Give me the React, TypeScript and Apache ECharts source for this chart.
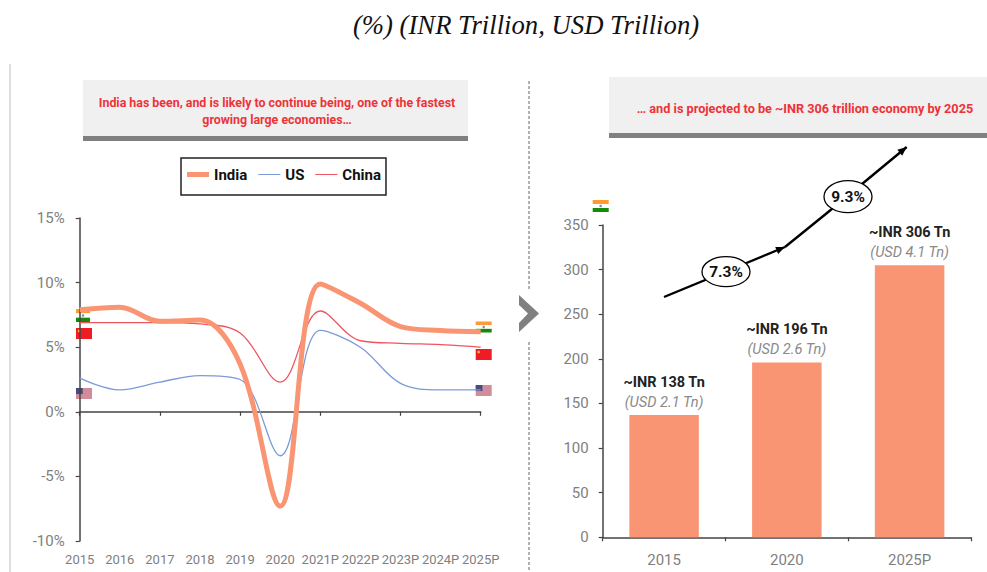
import React, { useEffect, useRef } from "react";
import * as echarts from "echarts";

const years = ["2015", "2016", "2017", "2018", "2019", "2020", "2021P", "2022P", "2023P", "2024P", "2025P"];
const india = [7.9, 8.1, 7.0, 7.1, 3.7, -7.3, 9.9, 8.4, 6.6, 6.3, 6.2];
const us = [2.6, 1.7, 2.3, 2.8, 2.5, -3.4, 6.3, 5.0, 2.2, 1.7, 1.7];
const china = [6.9, 6.9, 6.9, 6.8, 6.1, 2.3, 7.8, 5.5, 5.3, 5.2, 5.0];
const barCategories = ["2015", "2020", "2025P"];
const gdpInr = [137, 196, 305];
const inrLabels = ["~INR 138 Tn", "~INR 196 Tn", "~INR 306 Tn"];
const usdLabels = ["(USD 2.1 Tn)", "(USD 2.6 Tn)", "(USD 4.1 Tn)"];

const FONT = "Roboto, sans-serif";
const TICK = "#7f7f7f";
const ORANGE = "#fa9574";
const BLUE = "#7c9bd6";
const RED = "#ee5560";
const SMOOTH = 0.36;

function flagIndia(x: number, y: number, w: number, h: number) {
  const s = h / 3;
  return [
    { type: "rect", shape: { x, y, width: w, height: s }, style: { fill: "#ff9b33" } },
    { type: "rect", shape: { x, y: y + s, width: w, height: s }, style: { fill: "#ffffff" } },
    { type: "circle", shape: { cx: x + w / 2, cy: y + 1.5 * s, r: 1.3 }, style: { fill: "#8a8ab8" } },
    { type: "rect", shape: { x, y: y + 2 * s, width: w, height: s }, style: { fill: "#138a08" } },
  ];
}
function flagChina(x: number, y: number, w: number, h: number) {
  return [
    { type: "rect", shape: { x, y, width: w, height: h }, style: { fill: "#ee1c25" } },
    { type: "circle", shape: { cx: x + 3, cy: y + 3, r: 1.3 }, style: { fill: "#f5c030" } },
  ];
}
function flagUs(x: number, y: number, w: number, h: number) {
  return [
    { type: "rect", shape: { x, y, width: w, height: h }, style: { fill: "#d18c9a" } },
    { type: "rect", shape: { x, y, width: w * 0.42, height: h * 0.55 }, style: { fill: "#4a4a80" } },
  ];
}
function arrow(points: number[][]) {
  const n = points.length;
  const [x1, y1] = points[n - 2];
  const [x2, y2] = points[n - 1];
  const a = Math.atan2(y2 - y1, x2 - x1);
  const l = 9;
  const w = 3.8;
  const bx = x2 - l * Math.cos(a);
  const by = y2 - l * Math.sin(a);
  return [
    { type: "polyline", shape: { points }, style: { stroke: "#000", lineWidth: 2.4, fill: "none" } },
    {
      type: "polygon",
      shape: {
        points: [
          [x2, y2],
          [bx - w * Math.sin(a), by + w * Math.cos(a)],
          [bx + w * Math.sin(a), by - w * Math.cos(a)],
        ],
      },
      style: { fill: "#000" },
    },
  ];
}
function bubble(cx: number, cy: number, rx: number, ry: number, text: string) {
  return [
    { type: "ellipse", shape: { cx, cy, rx, ry }, style: { fill: "#fff", stroke: "#000", lineWidth: 1.3 } },
    {
      type: "text",
      x: cx,
      y: cy,
      style: { text, fill: "#111", font: `bold 15.5px ${FONT}`, align: "center", verticalAlign: "middle" },
    },
  ];
}
function header(x: number, y: number, w: number, h: number, text: string, tx: number, ty: number, size: number) {
  return [
    { type: "rect", shape: { x, y, width: w, height: h }, style: { fill: "#f0f0f0" } },
    { type: "rect", shape: { x, y: y + h, width: w, height: 5 }, style: { fill: "#808080" } },
    {
      type: "text",
      x: tx,
      y: ty,
      style: {
        text,
        fill: "#ee3338",
        font: `bold ${size}px ${FONT}`,
        lineHeight: 16.5,
        align: "center",
        verticalAlign: "middle",
      },
    },
  ];
}
const lineIcon = (t: number) => `path://M0,0H22V0ZM0,${7 - t / 2}H22V${7 + t / 2}H0ZM0,14H22V14Z`;

export default function App() {
  const ref = useRef<HTMLDivElement>(null);
  useEffect(() => {
    const chart = echarts.init(ref.current!, undefined, { renderer: "svg" });
    const axisLine = { show: true, lineStyle: { color: "#444", width: 1.5 } };
    const axisTick = { show: true, length: 4, lineStyle: { color: "#444", width: 1.2 } };
    const labelStyle = { color: TICK, fontFamily: FONT, fontSize: 15 };
    chart.setOption({
      animation: false,
      backgroundColor: "#fff",
      title: {
        text: "(%) (INR Trillion, USD Trillion)",
        left: 521,
        top: 6,
        textAlign: "center",
        textStyle: {
          fontFamily: '"Liberation Serif", serif',
          fontStyle: "italic",
          fontWeight: "normal",
          fontSize: 26.7,
          color: "#111",
        },
      },
      legend: {
        data: [
          { name: "India", icon: lineIcon(5), itemStyle: { color: ORANGE, borderWidth: 0 } },
          { name: "US", icon: lineIcon(1.2), itemStyle: { color: BLUE, borderWidth: 0 } },
          { name: "China", icon: lineIcon(1.2), itemStyle: { color: RED, borderWidth: 0 } },
        ],
        left: 181,
        top: 158,
        padding: [9, 5, 13, 6],
        itemGap: 11,
        itemWidth: 22,
        itemHeight: 14,
        borderColor: "#222",
        borderWidth: 1.5,
        textStyle: { color: "#111", fontFamily: FONT, fontSize: 15, fontWeight: "bold" },
      },
      grid: [
        { left: 79.7, top: 218, width: 401, height: 323 },
        { left: 602.7, top: 225, width: 368.3, height: 312.3 },
      ],
      xAxis: [
        {
          type: "category",
          gridIndex: 0,
          data: years,
          boundaryGap: false,
          axisLine: { ...axisLine, onZero: true },
          axisTick,
          axisLabel: { show: false },
        },
        {
          type: "category",
          gridIndex: 0,
          data: years,
          position: "bottom",
          boundaryGap: false,
          axisLine: { show: false, onZero: false },
          axisTick: { show: false },
          axisLabel: { ...labelStyle, fontSize: 13, interval: 0, margin: 12 },
        },
        {
          type: "category",
          gridIndex: 1,
          data: barCategories,
          axisLine,
          axisTick,
          axisLabel: { ...labelStyle, margin: 15 },
        },
      ],
      yAxis: [
        {
          type: "value",
          gridIndex: 0,
          min: -10,
          max: 15,
          interval: 5,
          axisLine,
          axisTick,
          splitLine: { show: false },
          axisLabel: { ...labelStyle, formatter: "{value}%", margin: 15 },
        },
        {
          type: "value",
          gridIndex: 1,
          min: 0,
          max: 350,
          interval: 50,
          axisLine,
          axisTick,
          splitLine: { show: false },
          axisLabel: { ...labelStyle, margin: 14 },
        },
      ],
      series: [
        {
          name: "India",
          type: "line",
          data: india,
          xAxisIndex: 0,
          yAxisIndex: 0,
          smooth: SMOOTH,
          symbol: "none",
          lineStyle: { color: ORANGE, width: 5 },
          itemStyle: { color: ORANGE },
          z: 3,
        },
        {
          name: "US",
          type: "line",
          data: us,
          xAxisIndex: 0,
          yAxisIndex: 0,
          smooth: SMOOTH,
          symbol: "none",
          lineStyle: { color: BLUE, width: 1.3 },
          itemStyle: { color: BLUE },
          z: 2,
        },
        {
          name: "China",
          type: "line",
          data: china,
          xAxisIndex: 0,
          yAxisIndex: 0,
          smooth: SMOOTH,
          symbol: "none",
          lineStyle: { color: RED, width: 1.3 },
          itemStyle: { color: RED },
          z: 2,
        },
        {
          name: "GDP",
          type: "bar",
          data: gdpInr,
          xAxisIndex: 2,
          yAxisIndex: 1,
          barWidth: 69.5,
          itemStyle: { color: ORANGE },
          label: {
            show: true,
            position: "top",
            distance: 3,
            formatter: (p: any) => `{a|${inrLabels[p.dataIndex]}}\n{b|${usdLabels[p.dataIndex]}}`,
            rich: {
              a: { fontFamily: FONT, fontSize: 14.5, fontWeight: "bold", color: "#222", lineHeight: 20 },
              b: { fontFamily: FONT, fontSize: 14.6, fontStyle: "italic", color: "#8a8a8a", lineHeight: 20 },
            },
          },
        },
      ],
      graphic: {
        elements: [
          { type: "line", shape: { x1: 10, y1: 64, x2: 10, y2: 572 }, style: { stroke: "#c8c8c8", lineWidth: 1.2 } },
          { type: "line", shape: { x1: 529, y1: 81, x2: 529, y2: 290 }, style: { stroke: "#666", lineWidth: 1, lineDash: [3, 2] } },
          { type: "line", shape: { x1: 529, y1: 342, x2: 529, y2: 572 }, style: { stroke: "#666", lineWidth: 1, lineDash: [3, 2] } },
          { type: "polygon", shape: { points: [[519, 295], [539, 313.5], [519, 332], [519, 323], [528, 313.5], [519, 305]] }, style: { fill: "#808080" } },
          ...header(83, 80, 385, 56, "India has been, and is likely to continue being, one of the fastest\ngrowing large economies…", 277, 111, 12.4),
          ...header(609, 77, 378, 56, "… and is projected to be ~INR 306 trillion economy by 2025", 805, 108, 12.7),
          ...flagIndia(76, 309, 14, 13),
          ...flagChina(76, 328, 16, 11),
          ...flagUs(76, 388, 16, 11),
          ...flagIndia(475.7, 321.5, 16, 11),
          ...flagChina(475.7, 349, 16, 11),
          ...flagUs(475.7, 385, 16, 11),
          ...flagIndia(592.7, 200, 16, 12),
          ...arrow([[664, 297], [785, 247]]),
          ...arrow([[785, 247], [827, 213], [906.7, 147]]),
          ...bubble(726, 271.7, 24, 15, "7.3%"),
          ...bubble(848, 196.7, 24, 16, "9.3%"),
        ],
      },
    });
    return () => chart.dispose();
  }, []);
  return <div ref={ref} style={{ position: "absolute", left: 0, top: 0, width: 987, height: 572 }} />;
}
